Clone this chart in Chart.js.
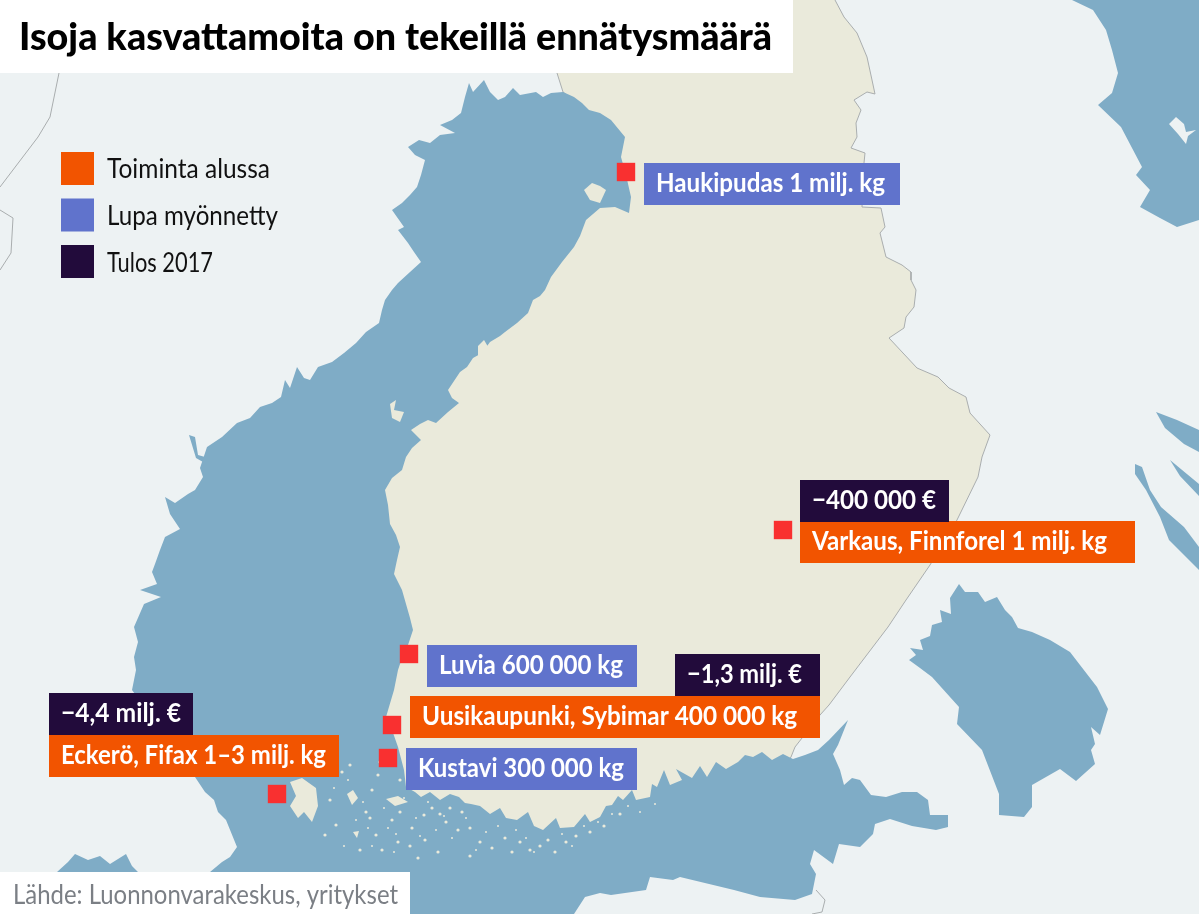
<!DOCTYPE html>
<html lang="fi"><head><meta charset="utf-8"><title>Isoja kasvattamoita on tekeillä ennätysmäärä</title>
<script src="https://cdn.jsdelivr.net/npm/chart.js@4"></script>
<style>html,body{margin:0;padding:0;background:#EDF2F3;overflow:hidden}canvas{display:block}</style>
</head><body><canvas id="c" width="1199" height="914"></canvas>
<script>
// ---- data ----
const titleText = "Isoja kasvattamoita on tekeillä ennätysmäärä";
const sourceText = "Lähde: Luonnonvarakeskus, yritykset";
const legendNames = ["Toiminta alussa", "Lupa myönnetty", "Tulos 2017"];
const siteNames = ["Haukipudas", "Varkaus", "Luvia", "Uusikaupunki", "Kustavi", "Eckerö"];
const siteX = [626, 783, 409, 392, 388, 277];
const siteY = [172, 530, 654, 725, 758, 794];
const siteLabels = ["Haukipudas 1 milj. kg", "Varkaus, Finnforel 1 milj. kg", "Luvia 600 000 kg", "Uusikaupunki, Sybimar 400 000 kg", "Kustavi 300 000 kg", "Eckerö, Fifax 1–3 milj. kg"];
const resultLabels = ["−400 000 €", "−1,3 milj. €", "−4,4 milj. €"];

const finland = [[835,0],[844,17],[857,33],[867,57],[872,80],[875,94],[867,92],[854,100],[861,110],[856,123],[857,137],[851,148],[865,153],[864,163],[862,207],[881,208],[885,227],[880,233],[886,257],[902,265],[911,272],[911,280],[916,290],[914,307],[906,317],[904,328],[889,338],[917,368],[938,377],[949,388],[966,397],[970,413],[990,435],[982,457],[978,477],[957,520],[930,565],[906,600],[888,627],[850,677],[829,705],[820,715],[795,747],[791,757],[760,800],[600,850],[440,840],[380,760],[380,500],[440,300],[560,200],[610,130],[563,92],[557,73],[557,0]];
const bothnia = [[469,83],[473,92],[484,80],[490,92],[498,100],[505,97],[513,88],[520,95],[536,92],[543,97],[551,93],[563,92],[574,97],[582,103],[589,110],[600,113],[611,120],[625,137],[621,157],[626,175],[631,197],[629,213],[615,207],[600,208],[586,220],[580,236],[574,247],[562,262],[551,277],[545,290],[540,296],[533,300],[528,313],[517,323],[505,332],[500,336],[490,342],[482,353],[473,358],[467,367],[460,372],[448,390],[452,398],[459,403],[448,412],[436,423],[428,420],[420,424],[411,430],[421,440],[412,448],[406,457],[402,470],[392,478],[385,490],[388,505],[390,524],[396,535],[400,547],[397,560],[394,574],[402,590],[406,604],[410,618],[413,630],[408,645],[402,658],[398,670],[394,690],[386,717],[392,730],[398,747],[404,770],[406,787],[415,792],[421,797],[430,792],[440,800],[450,794],[459,797],[465,803],[471,804],[480,806],[490,814],[500,808],[506,818],[517,820],[528,812],[534,826],[543,830],[556,818],[560,828],[574,827],[585,814],[590,822],[600,817],[606,806],[612,805],[618,796],[623,800],[632,790],[636,800],[650,797],[652,784],[657,787],[664,770],[670,785],[682,780],[676,769],[692,778],[700,766],[707,777],[716,762],[726,769],[738,762],[745,755],[753,757],[762,752],[772,760],[783,754],[793,759],[805,755],[818,750],[829,740],[848,720],[838,745],[833,754],[840,770],[844,785],[852,778],[860,780],[871,795],[886,797],[902,792],[917,792],[928,800],[930,815],[948,815],[948,827],[936,830],[912,826],[890,819],[875,824],[873,834],[860,847],[839,844],[833,864],[814,850],[810,864],[816,874],[812,894],[795,900],[760,897],[734,890],[680,877],[673,880],[650,877],[646,890],[611,895],[600,893],[585,897],[574,914],[210,914],[210,872],[222,862],[230,857],[237,847],[226,820],[218,812],[214,800],[205,792],[195,777],[165,735],[132,690],[136,670],[134,657],[138,642],[134,627],[144,604],[161,597],[146,592],[140,590],[157,584],[152,572],[155,564],[160,550],[165,537],[180,529],[170,514],[165,497],[175,503],[188,494],[195,490],[203,477],[200,468],[207,447],[222,437],[237,423],[250,418],[260,407],[272,403],[281,397],[285,380],[290,388],[297,367],[304,378],[310,380],[318,367],[332,362],[344,353],[356,343],[366,332],[379,323],[382,310],[385,300],[392,290],[398,283],[410,272],[421,262],[414,252],[408,243],[398,230],[404,227],[392,210],[402,203],[410,195],[417,187],[421,175],[425,160],[415,155],[408,147],[419,140],[430,143],[440,135],[455,133],[440,125],[452,120],[461,113],[465,97]];
const stockholmBit = [[57,872],[68,862],[75,854],[88,860],[100,856],[110,864],[126,854],[132,866],[138,872]];
const riverBit = [[189,435],[195,437],[198,455],[205,457],[203,462],[196,458]];
const ladoga = [[959,584],[965,592],[978,592],[985,602],[997,597],[1005,610],[1012,617],[1018,628],[1032,632],[1050,640],[1070,652],[1080,665],[1097,687],[1108,709],[1100,735],[1091,727],[1095,744],[1091,750],[1095,764],[1076,781],[1060,769],[1032,785],[1032,807],[1024,817],[999,815],[999,794],[982,750],[957,724],[959,707],[932,677],[920,668],[909,660],[916,655],[910,648],[923,650],[920,640],[930,636],[932,625],[942,622],[940,610],[951,614],[950,598]];
const whiteSea = [[1072,0],[1093,10],[1106,30],[1112,50],[1118,73],[1112,93],[1098,105],[1121,127],[1142,167],[1136,175],[1150,190],[1140,207],[1160,218],[1177,227],[1199,220],[1199,0]];
const onegaA = [[1135,464],[1142,467],[1150,490],[1161,507],[1184,527],[1199,547],[1199,570],[1169,540],[1160,517],[1146,490],[1135,474]];
const onegaB = [[1156,412],[1177,420],[1199,430],[1199,452],[1184,444],[1165,428]];
const onegaC = [[1170,460],[1199,484],[1199,496],[1180,476]];
const whiteIsland = [[1169,124],[1176,117],[1184,124],[1186,132],[1196,130],[1188,136],[1186,144],[1178,134]];
const hailuoto = [[584,190],[592,183],[600,186],[606,190],[600,203],[590,200]];
const aland = [[290,782],[302,778],[316,788],[318,806],[312,822],[304,812],[298,818],[290,806],[296,796]];
const archipelago = [[[347,794],[353,790],[358,798],[352,805]],[[386,799],[398,796],[408,802],[395,806]],[[353,832],[359,831],[357,838]],[[478,346],[484,340],[490,350],[484,362],[478,356]],[[390,404],[396,400],[394,410],[404,412],[400,422],[392,418]]];
const islandDotX = [330,336,342,372,378,370,376,392,400,412,410,424,440,450,470,520,530,548,566,576,360,366,325,350,382,398,418,438,400,380,432,446,458,480,492,505,512,540,555,590,604,620,470,462,425];
const islandDotY = [800,825,772,790,775,818,835,820,812,828,846,815,814,808,856,842,850,840,842,836,850,812,835,765,850,842,858,852,780,762,808,822,830,842,848,838,852,846,852,832,826,814,828,812,840];
const speckX = [334,348,356,363,368,384,388,396,404,416,420,428,436,444,452,466,476,486,498,516,526,534,562,572,584,598,612,628,640,655,344,372,394];
const speckY = [788,780,820,802,828,808,828,834,798,818,836,802,830,816,838,818,850,832,826,830,838,852,834,846,826,822,814,806,812,804,846,846,852];
const borderWestA = [[59,73],[50,117],[38,137],[0,187]];
const borderWestB = [[0,210],[13,218],[11,253],[0,270]];
const borderSouth = [[816,890],[825,900],[822,912],[812,914]];

// ---- colours ----
const WATER = "#7FACC6", LAND = "#EDF2F3", FIN = "#EAEADB", BORDER = "#A9ADAE";
const ORANGE = "#F25400", BLUE = "#6073CC", DARK = "#220B3B", RED = "#F93030";

const pts = a => a.map(p => ({x: p[0], y: p[1]}));
const poly = (a, color, order, extra) => Object.assign({type: "scatter", data: pts(a), showLine: true, fill: "shape", backgroundColor: color, borderColor: color, borderWidth: 0, pointRadius: 0, tension: 0, order}, extra || {});
const line = (a, order) => ({type: "scatter", data: pts(a), showLine: true, fill: false, borderColor: BORDER, borderWidth: 1, pointRadius: 0, tension: 0, order});
const dots = (xs, ys, r, order) => ({data: xs.map((v, i) => ({x: v, y: ys[i]})), pointStyle: "circle", pointRadius: r, pointBackgroundColor: FIN, pointBorderWidth: 0, order});

const boxes = [
 {t: siteLabels[0], x: 644, y: 163, w: 256, c: BLUE, tw: 229},
 {t: siteLabels[1], x: 800, y: 521, w: 335, c: ORANGE, tw: 295},
 {t: siteLabels[2], x: 427, y: 645, w: 210, c: BLUE, tw: 184},
 {t: siteLabels[3], x: 410, y: 696, w: 410, c: ORANGE, tw: 375},
 {t: siteLabels[4], x: 406, y: 748, w: 231, c: BLUE, tw: 206},
 {t: siteLabels[5], x: 49, y: 735, w: 290, c: ORANGE, tw: 265},
 {t: resultLabels[0], x: 800, y: 480, w: 149, c: DARK, tw: 124},
 {t: resultLabels[1], x: 675, y: 654, w: 145, c: DARK, tw: 115},
 {t: resultLabels[2], x: 49, y: 693, w: 144, c: DARK, tw: 120}
];
const legendWidths = [163, 171, 106];
const FONT = 'Lato,"Noto Sans",sans-serif';

const overlay = {
  id: "overlay",
  afterDatasetsDraw(chart) {
    const {ctx, scales: {x, y}} = chart;
    const rect = (x0, y0, x1, y1, c) => {
      ctx.fillStyle = c;
      ctx.fillRect(x.getPixelForValue(x0), y.getPixelForValue(y0), x.getPixelForValue(x1) - x.getPixelForValue(x0), y.getPixelForValue(y1) - y.getPixelForValue(y0));
    };
    const fit = (t, px, py, w, font, color) => {
      ctx.save();
      ctx.font = font;
      ctx.fillStyle = color;
      const k = w / ctx.measureText(t).width;
      ctx.translate(x.getPixelForValue(px), y.getPixelForValue(py));
      ctx.scale(k, 1);
      ctx.fillText(t, 0, 0);
      ctx.restore();
    };
    ctx.save();
    ctx.textBaseline = "alphabetic";
    boxes.forEach(b => {
      rect(b.x, b.y, b.x + b.w, b.y + 42, b.c);
      fit(b.t, b.x + 12, b.y + 29, b.tw, "bold 26px " + FONT, "#fff");
    });
    rect(0, 0, 793, 73, "#fff");
    fit(titleText, 19, 50, 753, "900 38px " + FONT, "#000");
    rect(0, 872, 410, 914, "#fff");
    fit(sourceText, 13, 904, 385, "26px " + FONT, "#7B7F85");
    [ORANGE, BLUE, DARK].forEach((c, i) => {
      rect(61, 152 + i * 46.5, 94, 185 + i * 46.5, c);
      fit(legendNames[i], 107, 178 + i * 47, legendWidths[i], "26px " + FONT, "#111");
    });
    ctx.restore();
  }
};

new Chart(document.getElementById("c"), {
  type: "scatter",
  data: {datasets: [
    {label: "Kasvattamot", data: siteX.map((v, i) => ({x: v, y: siteY[i]})), pointStyle: "rect", pointRadius: 13, pointHoverRadius: 13, pointBackgroundColor: RED, pointBorderWidth: 0, order: 0},
    dots(islandDotX, islandDotY, 1.6, 1),
    dots(speckX, speckY, 1, 1),
    poly(aland, FIN, 2),
    ...archipelago.map(a => poly(a, FIN, 2)),
    poly(hailuoto, FIN, 2),
    poly(whiteIsland, LAND, 2),
    poly(bothnia, WATER, 3),
    poly(stockholmBit, WATER, 3),
    poly(riverBit, WATER, 3),
    poly(ladoga, WATER, 3),
    poly(whiteSea, WATER, 3),
    poly(onegaA, WATER, 3),
    poly(onegaB, WATER, 3),
    poly(onegaC, WATER, 3),
    line(borderSouth, 3),
    poly(finland, FIN, 4, {borderColor: BORDER, borderWidth: 1}),
    line(borderWestA, 4),
    line(borderWestB, 4)
  ]},
  options: {
    responsive: false, animation: false, events: [], devicePixelRatio: 1,
    layout: {padding: 0, autoPadding: false},
    plugins: {legend: {display: false}, title: {display: false}, tooltip: {enabled: false}},
    scales: {
      x: {type: "linear", min: 0, max: 1199, display: false},
      y: {type: "linear", min: 0, max: 914, reverse: true, display: false}
    }
  },
  plugins: [overlay]
});
</script></body></html>
